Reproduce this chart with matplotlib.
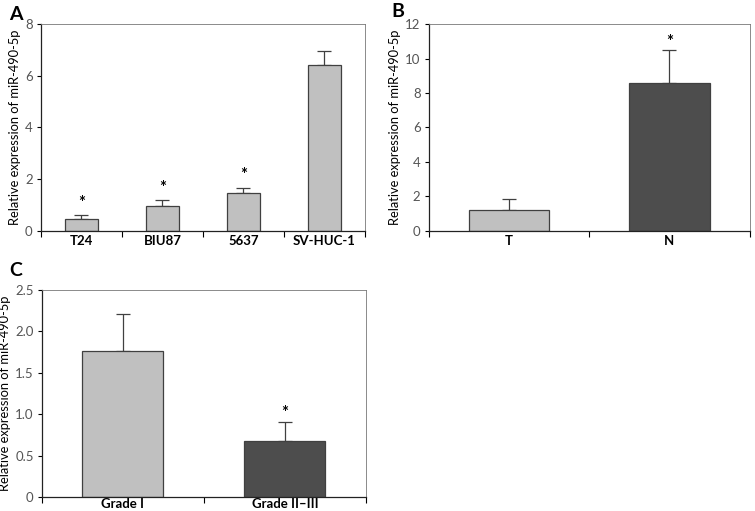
import numpy as np
import matplotlib
matplotlib.use('Agg')
import matplotlib.pyplot as plt

plt.rcParams['font.family'] = ['Lato', 'DejaVu Sans']

# panel A - cell lines
cells = ['T24', 'BIU87', '5637', 'SV-HUC-1']
cells_val = [0.45, 0.97, 1.45, 6.42]
cells_err = [0.17, 0.23, 0.23, 0.53]
cells_star = [True, True, True, False]

# panel B - tissue
tissue = ['T', 'N']
tissue_val = [1.2, 8.6]
tissue_err = [0.65, 1.9]
tissue_star = [False, True]

# panel C - grade
grade = ['Grade I', 'Grade II\u2013III']
grade_val = [1.76, 0.68]
grade_err = [0.45, 0.22]
grade_star = [False, True]

light = '#c0c0c0'
dark = '#4d4d4d'
ylab = 'Relative expression of miR-490-5p'


def panel(ax, names, vals, errs, stars, colors, width, ymax, yticks, ytl, star_off, xpad=3):
    x = np.arange(len(names))
    ax.bar(x, vals, width=width, color=colors, edgecolor='#404040', linewidth=0.9, zorder=2)
    ax.errorbar(x, vals, yerr=[np.zeros(len(vals)), errs], fmt='none', ecolor='#404040',
                elinewidth=0.9, capsize=5, capthick=0.9, zorder=1)
    for i in range(len(names)):
        if stars[i]:
            ax.annotate('*', (x[i], vals[i] + errs[i]), xytext=(0, star_off), textcoords='offset points',
                        ha='center', va='bottom', fontsize=12, fontweight='bold')
    ax.set_xlim(-0.5, len(names) - 0.5)
    ax.set_ylim(0, ymax)
    ax.set_yticks(yticks)
    ax.set_yticklabels(ytl, color='#555555', fontsize=9.5)
    ax.set_xticks(x)
    ax.set_xticklabels(names, fontweight='bold', fontsize=9.5)
    ax.tick_params(axis='x', length=0, pad=xpad)
    ax.set_xticks(np.arange(-0.5, len(names)), minor=True)
    ax.tick_params(axis='x', which='minor', length=4, direction='out', width=0.8)
    ax.tick_params(axis='y', length=3, width=0.8, direction='out', pad=3)
    for s in ['top', 'right']:
        ax.spines[s].set_color('#777777')
        ax.spines[s].set_linewidth(0.6)
    for s in ['left', 'bottom']:
        ax.spines[s].set_color('#222222')
        ax.spines[s].set_linewidth(0.9)
    ax.set_ylabel(ylab, fontsize=9.3, labelpad=3)


fig = plt.figure(figsize=(7.55, 5.11), dpi=100)

axA = fig.add_axes([0.0543, 0.548, 0.429, 0.405])
panel(axA, cells, cells_val, cells_err, cells_star, [light] * 4, 0.4, 8,
      [0, 2, 4, 6, 8], ['0', '2', '4', '6', '8'], 3)

axB = fig.add_axes([0.568, 0.548, 0.425, 0.405])
panel(axB, tissue, tissue_val, tissue_err, tissue_star, [light, dark], 0.5, 12,
      [0, 2, 4, 6, 8, 10, 12], ['0', '2', '4', '6', '8', '10', '12'], 0)

axC = fig.add_axes([0.0556, 0.0274, 0.429, 0.405])
panel(axC, grade, grade_val, grade_err, grade_star, [light, dark], 0.5, 2.5,
      [0, 0.5, 1.0, 1.5, 2.0, 2.5], ['0', '0.5', '1.0', '1.5', '2.0', '2.5'], 1, xpad=1)

fig.text(0.012, 0.972, 'A', fontsize=14, fontweight='bold', va='center')
fig.text(0.518, 0.977, 'B', fontsize=14, fontweight='bold', va='center')
fig.text(0.012, 0.47, 'C', fontsize=14, fontweight='bold', va='center')

fig.savefig('out.png', dpi=100)
